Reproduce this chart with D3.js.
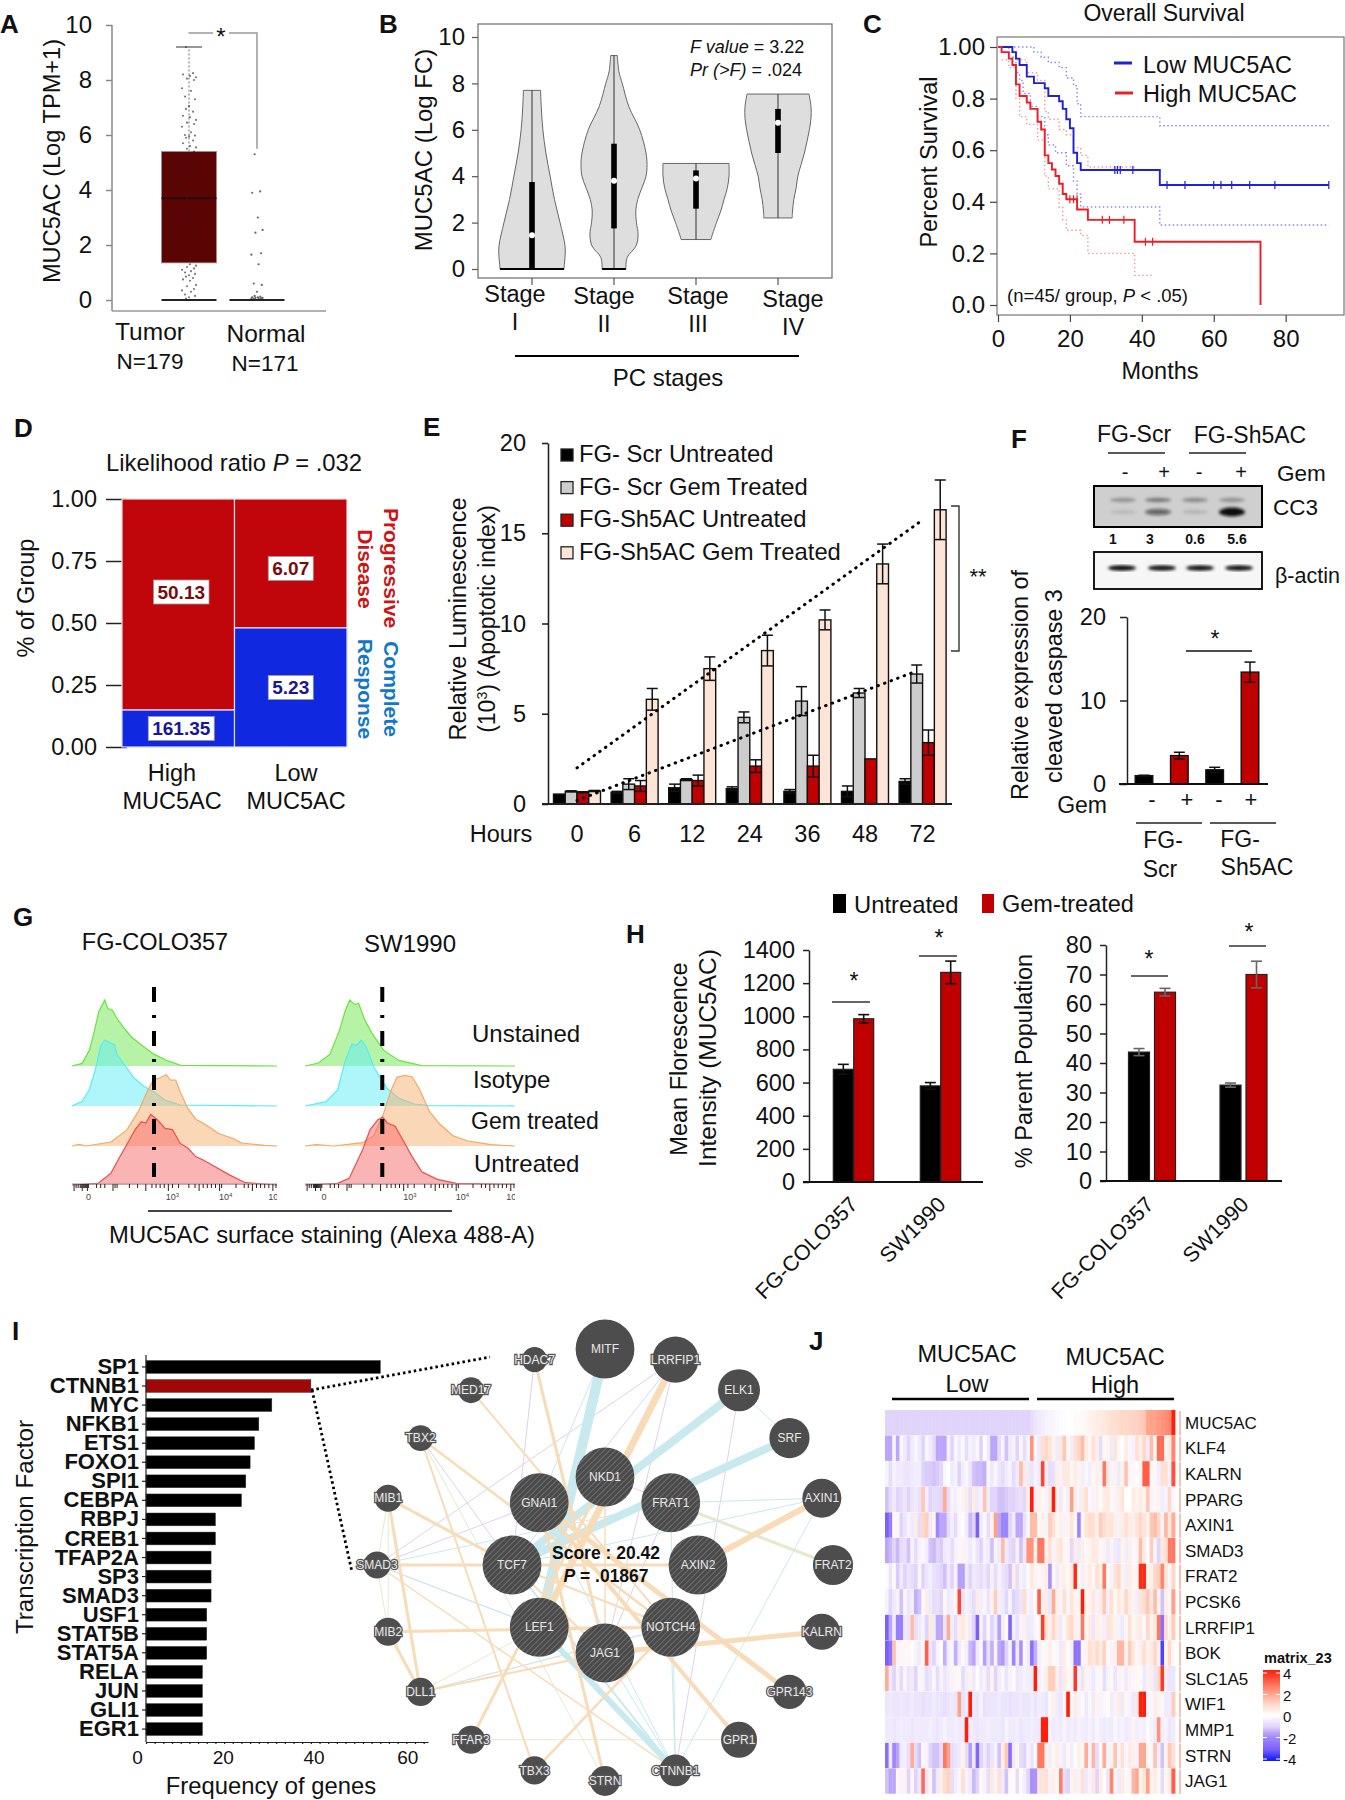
<!DOCTYPE html>
<html>
<head>
<meta charset="utf-8">
<script src="https://cdn.jsdelivr.net/npm/d3@7.9.0/dist/d3.min.js"></script>
<style>
  html, body { margin: 0; background: #fff; }
  svg { display: block; }
  text { font-family: "Liberation Sans", Arial, sans-serif; fill: #111; }
</style>
</head>
<body>
<svg id="fig" width="1345" height="1800"></svg>
<script>
// A
const aTicks = [0, 2, 4, 6, 8, 10];
const tumorBox = { q1: 1.35, med: 3.7, q3: 5.4, top: 9.2 };
const tumorPts = [9.2, 8.25, 8.2, 8.15, 8.1, 8.05, 8.0, 7.7, 7.6, 7.4, 7.3, 7.05, 6.95, 6.85, 6.7, 6.65, 6.55, 6.45, 6.4, 6.3, 6.1, 6.0, 5.98, 5.95, 5.9, 5.8, 5.7, 5.6, 5.55, 5.5, 5.4, 5.3, 5.1, 5, 4.8, 4.6, 4.5, 4.4, 4.2, 4, 3.8, 3.7, 3.5, 3.2, 3, 2.8, 2.6, 2.3, 2, 1.7, 1.5, 1.3, 1.25, 1.2, 1.15, 1.1, 1.05, 1.0, .95, .9, .85, .8, .75, .7, .55, .5, .4, .35, .3, .2, .15, .1, .05];
const normalPts = [5.3, 3.95, 3.9, 3, 2.55, 2.45, 1.7, 1.65, 1.3, .6, .55, .3, .15, .12, .1, .1, .08, .08, .06, .05, .05, .04];
const jitter = [-3, 4, -6, 1, 7, -2, 5, -7, 2, -4, 6, 0];

// B
const bTicks = [0, 2, 4, 6, 8, 10];
const stages = ['I', 'II', 'III', 'IV'];
const violinI = [[7.7, .26], [7, .28], [6, .33], [5, .42], [4, .55], [3, .68], [2, .85], [1, 1], [.5, 1], [.2, .98], [0, .97]];
const violinII = [[9.2, .1], [8.5, .15], [8, .25], [7, .45], [6, .78], [5, .97], [4.5, 1], [4, .97], [3, .72], [2.5, .66], [2, .68], [1.5, .73], [1, .67], [.5, .4], [0, .36]];
const violinIII = [[4.55, 1], [4, 1], [3.5, .95], [3, .85], [2.5, .75], [2, .62], [1.5, .5], [1.27, .45]];
const violinIV = [[7.54, .94], [7, 1], [6.5, 1], [6, .95], [5.5, .88], [5, .8], [4.5, .7], [4, .6], [3.5, .55], [3, .48], [2.5, .44], [2.2, .43]];
const violins = [violinI, violinII, violinIII, violinIV];
const stageQ1 = [0, 1.75, 2.6, 5.0];
const stageMed = [1.45, 3.8, 3.9, 6.3];
const stageQ3 = [3.75, 5.4, 4.25, 6.9];

// C
const lowCurve = [[0, 1], [4, .98], [5, .955], [6, .93], [8, .885], [10, .86], [13, .84], [14, .81], [17, .79], [18, .76], [19, .72], [20, .685], [21, .59], [22, .55], [23, .523], [45, .465], [92, .465]];
const highCurve = [[0, 1], [1, .98], [3, .955], [4, .93], [5, .855], [6, .81], [8, .785], [9, .76], [11, .71], [12, .68], [13, .58], [14, .55], [15, .525], [16, .5], [17, .47], [18, .43], [19, .41], [22, .37], [25, .33], [38, .245], [73, .245], [73, 0]];
const lowUpper = [[0, 1], [8, 1], [10, .98], [12, .96], [14, .94], [17, .92], [19, .88], [21, .85], [22, .78], [23, .73], [45, .695], [92, .695]];
const lowLower = [[4, .96], [5, .9], [6, .87], [7, .82], [9, .77], [11, .73], [13, .66], [14, .62], [16, .59], [19, .54], [21, .48], [22, .43], [23, .38], [45, .31], [92, .31]];
const highUpper = [[1, 1], [3, .98], [5, .95], [8, .9], [11, .87], [13, .75], [14, .72], [17, .68], [19, .66], [21, .61], [23, .58], [25, .535], [38, .535]];
const highLower = [[1, .95], [3, .92], [5, .8], [6, .73], [8, .7], [11, .64], [13, .5], [14, .45], [17, .38], [18, .33], [19, .29], [23, .27], [25, .2], [38, .115], [43, .115]];
const lowCensor = [[32.5, .523], [33.2, .523], [34, .523], [37.5, .523], [47, .465], [52, .465], [60, .465], [62, .465], [65, .465], [70, .465], [77, .465], [92, .465]];
const highCensor = [[20, .41], [21, .41], [22, .41], [29, .33], [31, .33], [35, .33], [41, .245], [43, .245]];

// D
const dTicks = [0, .25, .5, .75, 1];
const dGroups = ['High', 'Low'];
const dBlueShare = [.149, .48];
const dBlueStat = ['161.35', '5.23'];
const dRedStat = ['50.13', '6.07'];

// E
const hours = ['0', '6', '12', '24', '36', '48', '72'];
const eSeries = ['FG- Scr Untreated', 'FG- Scr Gem Treated', 'FG-Sh5AC Untreated', 'FG-Sh5AC Gem Treated'];
const scrUntreated = [.55, .65, .9, .85, .7, .7, 1.25];
const scrGem = [.7, 1.1, 1.35, 4.8, 5.7, 6.15, 7.2];
const shUntreated = [.65, 1.0, 1.3, 2.1, 2.1, 2.5, 3.4];
const shGem = [.72, 5.8, 7.5, 8.5, 10.2, 13.3, 16.3];
const scrUntreatedErr = [0, .05, .2, .1, .1, .3, .15];
const scrGemErr = [.03, .3, .05, .3, .8, .25, .5];
const shUntreatedErr = [.03, .3, .3, .35, .6, 0, .7];
const shGemErr = [.03, .6, .65, .85, .55, 1.1, 1.65];
const trendUpper = [[0, 2.0], [5.94, 15.6]];
const trendLower = [[0, .2], [5.8, 7.25]];

// F
const blotLanes = [1, 2, 3, 4];
const cc3Upper = [.38, .55, .42, .38];
const cc3Lower = [.1, .55, .12, 1];
const actinBand = [.95, .9, .9, .9];
const densito = ['1', '3', '0.6', '5.6'];
const fTicks = [0, 10, 20];
const fValues = [1.0, 3.4, 1.7, 13.4];
const fErr = [.05, .4, .3, 1.2];

// G
const greenL = [[0, 0], [5, .04], [8.5, .24], [11, .54], [13, .82], [16, 1], [17.5, .87], [19.6, .85], [22, .72], [25, .59], [29, .44], [34.6, .3], [40, .18], [45.7, .09], [53, .01], [100, 0]];
const cyanL = [[0, 0], [5, .07], [8.5, .25], [11.4, .55], [14, .91], [16, 1], [18.3, .96], [20.7, .93], [22, .78], [25, .65], [30.4, .42], [35, .3], [39.7, .22], [45.3, .09], [52.8, .015], [100, 0]];
const orangeL = [[0, 0], [3.4, .025], [7, 0], [19, .06], [26.7, .24], [32.3, .52], [37, .85], [39.7, 1], [42.6, 1.03], [46, 1.08], [48, 1], [50.6, 1], [52.8, .82], [56.5, .57], [60.3, .41], [65.9, .31], [71.5, .19], [79, .11], [82.6, .045], [93.8, .01], [100, 0]];
const redL = [[0, 0], [12.7, .025], [19, .18], [23, .41], [26.7, .61], [30.8, .84], [33.8, .96], [36, .94], [38.4, 1.07], [41.6, .99], [45.3, .86], [49, .84], [52.8, .63], [56.5, .56], [60.3, .43], [64, .38], [69.6, .28], [77, .15], [84.5, .035], [100, 0]];
const greenR = [[0, 0], [6.4, .045], [11.9, .18], [16.4, .54], [19.2, .84], [21.3, 1], [23.7, .93], [25.5, .95], [28.3, .71], [32, .49], [37.4, .24], [44.7, .085], [55.6, .005], [100, 0]];
const cyanR = [[0, 0], [10, .065], [15.5, .24], [19.2, .69], [22.4, .94], [24.6, .92], [26.8, 1], [29.2, .89], [32.8, .59], [35.6, .44], [39.2, .265], [44.7, .115], [52, .03], [59.3, .005], [100, 0]];
const orangeR = [[0, 0], [5.5, .02], [13.7, 0], [27.4, .05], [32.8, .16], [37.4, .49], [41, .85], [43.8, 1.04], [47.4, 1.07], [51, 1.05], [54.7, .85], [59.3, .52], [63.9, .34], [70.3, .16], [77.6, .076], [88.5, .02], [100, 0]];
const redR = [[0, 0], [15.5, .025], [21, .1], [27.4, .53], [31, .84], [34.7, .99], [37, 1.03], [39.2, .94], [42.9, .89], [46.5, .69], [51, .43], [55.6, .2], [63, .086], [72, .025], [100, .01]];
const flowTicks = [1, 2, 3, 4, 4.5, 5, 5.5, 6, 6.5, 7, 7.5, 8, 12, 14, 16, 20, 21, 22, 28, 32, 36, 39, 41, 43, 45, 47, 49, 52, 57, 60, 62, 64, 66, 68, 70, 72, 73, 80, 84, 86, 88, 90, 92, 94, 96, 98, 99.5];
const gateLeft = 40;
const gateRight = 36.8;

// H
const hCells = ['FG-COLO357', 'SW1990'];
const mfiTicks = [0, 200, 400, 600, 800, 1000, 1200, 1400];
const mfiUntreated = [680, 580];
const mfiGem = [985, 1265];
const mfiUntreatedErr = [30, 20];
const mfiGemErr = [25, 68];
const popTicks = [0, 10, 20, 30, 40, 50, 60, 70, 80];
const popUntreated = [43.7, 32.5];
const popGem = [64, 70];
const popUntreatedErr = [1.2, .7];
const popGemErr = [1.3, 4.5];

// I
const tfNames = ['SP1', 'CTNNB1', 'MYC', 'NFKB1', 'ETS1', 'FOXO1', 'SPI1', 'CEBPA', 'RBPJ', 'CREB1', 'TFAP2A', 'SP3', 'SMAD3', 'USF1', 'STAT5B', 'STAT5A', 'RELA', 'JUN', 'GLI1', 'EGR1'];
const tfFreq = [54, 38, 29, 26, 25, 24, 23, 22, 16, 16, 15, 15, 15, 14, 14, 14, 13, 13, 13, 13];

const innerGenes = ['NKD1', 'FRAT1', 'AXIN2', 'NOTCH4', 'JAG1', 'LEF1', 'TCF7', 'GNAI1'];
const outerGenes = ['MITF', 'LRRFIP1', 'ELK1', 'SRF', 'AXIN1', 'FRAT2', 'KALRN', 'GPR143', 'GPR1', 'CTNNB1', 'STRN', 'TBX3', 'FFAR3', 'DLL1', 'MIB2', 'SMAD3', 'MIB1', 'TBX2', 'MED17', 'HDAC7'];
const outerScore = [98, 77, 70, 67, 65, 67, 60, 57, 60, 53, 50, 47, 47, 47, 47, 45, 45, 43, 43, 42];
const orangeEdges = [['LRRFIP1', 'LEF1', 7], ['AXIN1', 'AXIN2', 6], ['KALRN', 'JAG1', 5], ['GPR143', 'GNAI1', 5], ['GPR1', 'GNAI1', 4], ['MIB1', 'TCF7', 3], ['SMAD3', 'AXIN2', 3], ['MIB2', 'NOTCH4', 3], ['MIB1', 'DLL1', 3], ['MIB2', 'DLL1', 3], ['MED17', 'NOTCH4', 2], ['HDAC7', 'JAG1', 3], ['STRN', 'GNAI1', 3], ['FFAR3', 'NKD1', 3], ['TBX3', 'NOTCH4', 2.5], ['TBX3', 'TBX2', 2], ['TBX2', 'NOTCH4', 2.5], ['DLL1', 'JAG1', 2], ['SMAD3', 'CTNNB1', 1.5], ['TCF7', 'JAG1', 2], ['GNAI1', 'STRN', 1.5], ['TCF7', 'NOTCH4', 2], ['LEF1', 'NOTCH4', 1.5], ['NKD1', 'JAG1', 1.5]];
const cyanEdges = [['MITF', 'LEF1', 10], ['ELK1', 'TCF7', 8], ['SRF', 'TCF7', 8], ['LEF1', 'CTNNB1', 6], ['TCF7', 'CTNNB1', 2], ['ELK1', 'SRF', 1], ['FRAT1', 'AXIN1', 1], ['TCF7', 'AXIN1', 1], ['AXIN1', 'CTNNB1', 1], ['FRAT1', 'CTNNB1', 1], ['NOTCH4', 'CTNNB1', 1], ['JAG1', 'CTNNB1', 1], ['SMAD3', 'FRAT1', 1], ['SMAD3', 'LEF1', 1], ['MITF', 'GNAI1', 1], ['DLL1', 'NOTCH4', 1], ['GNAI1', 'CTNNB1', 1]];
const purpleEdges = [['LRRFIP1', 'SMAD3', 1], ['LRRFIP1', 'TCF7', 1], ['HDAC7', 'TCF7', 1], ['ELK1', 'CTNNB1', 1], ['LRRFIP1', 'JAG1', 1], ['LRRFIP1', 'LEF1', 1], ['NKD1', 'FRAT2', 1], ['FRAT1', 'FRAT2', 1], ['SMAD3', 'LEF1', 1], ['SMAD3', 'GNAI1', 1], ['DLL1', 'JAG1', 1], ['TBX2', 'TCF7', 1], ['FRAT1', 'JAG1', 1]];
const greenEdges = [['FRAT1', 'FRAT2', 3], ['FFAR3', 'GPR1', 1], ['TBX2', 'TBX3', 1], ['TBX2', 'STRN', 1], ['MIB1', 'SMAD3', 1], ['SMAD3', 'MIB2', 1], ['MIB1', 'MIB2', 1], ['DLL1', 'NOTCH4', 1], ['DLL1', 'LEF1', 1]];

// J
const heatGenes = ['MUC5AC', 'KLF4', 'KALRN', 'PPARG', 'AXIN1', 'SMAD3', 'FRAT2', 'PCSK6', 'LRRFIP1', 'BOK', 'SLC1A5', 'WIF1', 'MMP1', 'STRN', 'JAG1'];
const rowMUC5AC = [-1,-1,-1,-1,-1,-1,-1,-1,-1,-1, -1,-1,-1,-1,-1,-1,-1,-1,-1,-1, -1,-1,-1,-1,-1,-1,-1,-1,-1,-1, -1,-1,-1,-1,-1,-1,-1,-1,-1,-1, -.8,-.6,-.5,-.4,-.3,-.25,-.2,-.15,-.1,-.05, 0,0,.1,.1,.15,.2,.3,.4,.5,.5, .6,.7,.8,.8,.9,1,1,1,1.1,1.1, 1.2,1.3,1.9,2,2,2.1,2.2,2.3,2.4,4];
const rowKLF4 = [-1.5,-1.5,-.3,-1.5,-.2,-.5,-1,-.5,-.2,-.5, -1,-.2,-.5,-.8,-1.5,-1.5,-1.5,-.3,-1,-.2, -.5,-.2,-.8,-.3,-.5,-.2,-1,0,-.5,-1.5, -1.5,-.8,-.3,-1.2,-.5,-.3,-1,-.2,-.8,-.3, 2.2,-.2,-.5,.8,1,.7,.3,-.5,.6,1.3, .2,-.4,.8,1,1.5,.5,.2,.8,.4,-.8, .2,.3,-.5,.7,.2,0,.5,-.2,-.3,.8, .4,1,-.5,1.5,.3,2.8,2.8,.3,.5,2.4];
const rowKALRN = [-.3,-.8,-.3,-.5,-.5,-.6,-.6,-.5,-.4,-.4, -1,-1.1,-1.1,-1.2,-1.1,-.9,-.2,0,-.5,-.3, -1,-.4,-.2,-.6,-1.2,-1.3,-1.3,-1.4,-.2,-.5, -.2,-.6,-.8,-.5,-.3,-.8,-.5,1.5,.5,-.5, -.6,-.3,-.5,3.4,-.5,-.8,-.7,.4,-.3,.6, .6,.2,.5,.3,-.4,-.2,-.4,.2,.4,-.3, 2.6,.6,-.3,.3,-.5,.3,1.4,-.2,.2,0, .3,3,3,.2,-.2,-.4,.8,.8,-.3,3.2];
const rowPPARG = [-1.2,-.8,-.5,-1,-.8,-.6,-1,-.6,-.5,-.7, 1.3,-.4,-1,-.8,-.8,-1,1.8,-.8,-.3,-.4, .2,-.3,.5,-.8,.5,-.5,-.3,1.4,-.5,-1, -1,-1.2,-1.2,-1.1,-1,-1,-.8,-.7,-.9,.5, 4,-.4,.4,.2,-.3,.6,4,.3,-.5,.2, -.4,2,.4,-.3,.5,.8,-.2,-.3,.4,.1, .5,.6,.2,-.3,.4,.7,0,0,.5,.3, .5,.3,1.3,-.3,.2,.3,-.4,-.3,1,-.2];
const rowAXIN1 = [-3,-2.2,.2,-.2,-1,-.6,-.3,-.5,.5,-.8, 1,1.2,-.5,.3,-2,-1.5,-1.5,-.8,-.4,-.8, -.2,.1,-.5,-1.3,-1,-3,-.5,-.2,-.8,.3, 2,-1.5,-2,-2,-1,-.5,-1.5,-1.5,-.7,-.2, 1.5,1.5,.2,.3,-.3,1.2,.8,.2,.4,-.3, .3,.7,-.2,-2,-.2,.7,.9,.8,.4,1.2, .9,.6,.7,.4,-.3,.5,.8,.5,.4,.7, 1,.7,.3,1.3,1.5,1,-.3,1.6,.6,1.8];
const rowSMAD3 = [-1.5,-1.3,-1,-1.3,-.8,-.7,-1.2,-.3,-.8,-.3, -.2,-.4,-1.2,-1.3,-1,-1.1,-.5,-.4,-.8,-.3, -.2,.3,-.3,-.5,-.2,-.6,-1,-.3,-.5,-1.2, -.3,-.5,1.5,-.5,-.8,-1,-.3,-1.2,-.5,2.2, 2.2,.3,2.6,2.6,.3,.8,-.3,.5,.7,.2, .3,-.9,.5,-.5,.4,.2,.3,.6,.5,-.2, .3,-.5,.3,-.5,-.6,.3,-.4,.4,-.2,.3, 1.5,.5,-.1,1.2,-.3,-1,.6,.8,2.6,2.6];
const rowFRAT2 = [-.1,-.6,.2,-1.1,-.5,-1,-.6,-.8,-1,-.2, -1,-.6,-.4,-.7,-.8,-1,-1.2,-.5,-1,-.3, -1.6,-1.6,-.5,-1,-.5,-.6,-.8,-.5,-.9,-.3, -.8,-.3,-.6,-.8,-1.2,.5,-.8,-.3,-.5,.1, .6,.3,-.2,.3,.5,-1.8,.2,-.5,.3,.4, .2,.5,3.8,.2,-.4,.3,.5,.2,.8,.4, 2.6,.2,-.3,.7,1,.3,-.4,.5,.2,.3, 3.8,3.8,.3,.4,1,1.2,2.4,.7,-.2,1];
const rowPCSK6 = [-.3,-1,-.5,-.3,-1.2,-.2,-.6,-.4,-1.4,-1.2, -.2,.5,-.5,-.8,-.7,-1,.2,-.5,-.4,-.2, 3.4,-.6,-.3,-.5,-.8,.5,-.4,-.2,-.6,.3, 1.2,-.4,-.5,-.9,-.3,-1,-.8,-.6,.9,-.3, -.4,.1,3,.3,.5,-.6,1.8,.4,-.3,.8, -.2,.7,.3,.2,4,.2,.3,.6,-.3,.5, 1.3,-.4,.8,.2,.6,.3,1,.5,.3,-.4, .7,.9,1.3,.6,1.5,.3,-1.2,.4,.2,2];
const rowLRRFIP1 = [-3,-1.5,-.5,-2.2,-2.2,-.5,-.6,1.5,-.7,-.5, -.3,-1,.6,-.5,-1.5,-1.5,-.6,1.8,-.4,-.8, .4,.6,.3,-.5,-1,-3,-.3,-1,-.2,-1, -.5,-1.6,-.4,.2,-2.8,-.4,-.7,-.3,.4,-.5, -.5,-.2,.1,3.5,.7,.4,1,.5,-.5,.2, .7,1,.4,-.3,2.6,.2,.5,-.6,.4,.3, -.4,.7,.6,.3,-.3,-.5,.2,.8,.2,.4, .5,-.2,1,.3,.6,2.6,-2.6,.9,.3,1.2];
const rowBOK = [-3,-2.5,1.4,-.3,.2,-.2,.2,.1,-.3,-.5, .2,3,-.6,-1,-.3,0,-1.4,-.4,-.2,-1.4, -.5,.2,-.4,-1.3,-1.5,-.5,-.2,-1.6,-.7,-1.4, -.3,-1.5,-1.7,-1,-.3,-2,-.5,-1.8,.2,-.5, -2.5,-1.4,-.4,.2,-.2,.4,.1,-.2,-.5,.5, .1,-.3,-2.5,-2.5,-.2,.3,.8,.6,.9,.5, 1.1,.2,-.3,.4,1.6,1.6,.3,1.2,.6,-.2, .4,.8,.3,.5,1,.4,-3.4,.3,1,.2];
const rowSLC1A5 = [1.8,-.5,-1,-.3,-.8,-.2,-.6,-.5,-1,-.2, -.3,-.8,-.6,-.2,-.8,-.3,-.6,-.4,.3,-.2, .2,-.8,-.4,.3,-.5,.1,-.5,-.3,-.8,.3, -1,-.4,-.2,-.6,-.3,.1,-.6,-.5,-.3,-.4, -.5,4,-.4,-.2,.5,1.2,1.2,.4,-.6,.5, .2,-.2,3.6,-.3,-.6,.3,-.3,-.5,-.2,.2, -.8,-.3,.2,-.6,-.3,.2,-.5,.3,-.2,.2, .1,-.5,-.3,.4,-.6,1,3.6,-.4,-.6,-.6];
const rowWIF1 = [-.6,-.5,-.6,-.6,-.5,-.6,-.6,-.5,-.6,-.6, -.7,-.6,-.6,-.5,-.6,-.6,-.7,-.6,-.5,-.6, 2,-.7,-.4,4,-.5,-.6,-.3,-.7,-.6,-.6, -.6,-.5,-.6,-.6,-.7,-.6,-.6,-.5,-.6,-.6, -.4,-.6,-.4,-.5,-.6,-.2,.4,-.5,-.6,-.2, 4,.2,.5,-.3,.1,-.5,-.2,-.5,.3,-.3, -.2,.1,-.4,-.3,.5,-.5,.2,-.3,-.5,.6, 4,4,-.3,-.2,.5,-.3,.2,-.5,-.5,1.2];
const rowMMP1 = [-.5,-.5,-.6,-.5,-.4,-.5,-.5,-.6,-.5,-.5, -.5,-.5,-.4,-.5,-.6,-.5,-.3,-.5,-.5,-.4, -.5,-.5,4,-.4,-.5,-.6,-.5,-.5,-.4,-.5, -.5,-.5,-.6,-.3,-.5,-.5,-.4,-.6,-.5,-.5, -.4,-.5,-.5,4,4,-.3,-.5,-.4,-.5,-.3, -.5,-.4,-.5,-.3,-.4,-.5,-.3,-.5,-.2,-.4, -.5,-.4,-.5,-.2,-.4,-.3,-.5,-.4,.3,-.4, -.3,-.4,.1,-.3,-.5,2.2,-.4,-.3,-.6,-.5];
const rowSTRN = [-2.6,-.5,-2,-1.5,-.5,-.4,-.8,1.8,-.8,-1.2, .2,-.3,-1,-1.2,-1.2,-.8,2.6,2,-.8,-.6, -.5,.3,-.8,-1.6,-.5,-2.8,-1,-.5,-1,-.6, -.3,-1.2,.4,1.3,-2.6,-.5,.3,-.8,-1,-.3, -.6,-.2,2.6,2.6,.3,-.4,.2,.5,-.3,-.5, .2,-.4,.1,.4,.2,1.8,-.3,1.6,-.8,.2, 1.8,-.3,.3,1.4,-.3,.8,-.2,.5,.4,-.3, 1.9,1.9,.2,-.2,1.4,-.4,-1.2,.3,1.3,.8];
const rowJAG1 = [-1.2,-1.5,-1.5,.2,-.3,.3,-1,-.2,-1,-.5, 2.8,-.6,.3,-1.2,-.5,.4,.9,1.1,-.8,-.4, -.2,.8,-.3,-.5,-1.3,-1,.2,-.3,-.8,.6, -.3,.8,-.5,-1.2,.2,.1,-.8,.1,-.4,-1, -1.8,-1.8,.7,.7,.8,-.3,.4,.2,2.5,-.8, -1,.3,.4,-.3,.8,-.5,-.3,.6,-1,.5, .1,-.6,2.4,.3,-.5,.5,.2,-.3,1.6,1.9, .3,.7,2,.3,.5,.2,-.8,.2,.5,3];
const heatRows = [rowMUC5AC, rowKLF4, rowKALRN, rowPPARG, rowAXIN1, rowSMAD3, rowFRAT2, rowPCSK6, rowLRRFIP1, rowBOK, rowSLC1A5, rowWIF1, rowMMP1, rowSTRN, rowJAG1];
const heatLegend = [4, 2, 0, -2, -4];

const svg = d3.select('#fig');
const RED = '#c00000';

function label(parent, x, y, s, o = {}) {
  const t = parent.append('text')
    .attr('x', x).attr('y', y)
    .attr('font-size', o.size || 23.5)
    .attr('text-anchor', o.anchor || 'start')
    .text(s);
  if (o.weight) t.attr('font-weight', o.weight);
  if (o.italic) t.attr('font-style', 'italic');
  if (o.fill) t.style('fill', o.fill);
  if (o.rotate !== undefined) t.attr('transform', `rotate(${o.rotate},${x},${y})`);
  return t;
}

function axisStyle(g, size, color = '#000', width = 1.5) {
  g.select('.domain').attr('stroke', color).attr('stroke-width', width);
  g.selectAll('.tick line').attr('stroke', color).attr('stroke-width', width);
  g.selectAll('.tick text').attr('font-size', size).style('fill', '#111');
}

function hLine(x1, x2, y, w = 1.5, color = '#222') {
  svg.append('line').attr('x1', x1).attr('x2', x2).attr('y1', y).attr('y2', y)
    .attr('stroke', color).attr('stroke-width', w);
}

function whisker(parent, x, y1, y2, cap, color = '#111', w = 1.5) {
  parent.append('line').attr('x1', x).attr('x2', x).attr('y1', y1).attr('y2', y2).attr('stroke', color).attr('stroke-width', w);
  [y1, y2].forEach(y => parent.append('line').attr('x1', x - cap).attr('x2', x + cap).attr('y1', y).attr('y2', y).attr('stroke', color).attr('stroke-width', w));
}

const defs = svg.append('defs');
defs.append('filter').attr('id', 'blur').append('feGaussianBlur').attr('stdDeviation', 1.6);
const hatch = defs.append('pattern').attr('id', 'hatch').attr('width', 4).attr('height', 4)
  .attr('patternUnits', 'userSpaceOnUse').attr('patternTransform', 'rotate(-45)');
hatch.append('rect').attr('width', 4).attr('height', 4).attr('fill', '#4a4a4a');
hatch.append('rect').attr('width', 4).attr('height', 1).attr('fill', '#6e6e6e');

// panel letters
[['A', 0, 33], ['B', 379, 33], ['C', 863, 33], ['D', 14, 437], ['E', 423, 436], ['F', 1011, 448], ['G', 13, 926], ['H', 626, 943], ['I', 12, 1340], ['J', 809, 1350]]
  .forEach(d => label(svg, d[1], d[2], d[0], { size: 26, weight: 'bold' }));

// --- A: box plot
function drawA() {
  const y = d3.scaleLinear().domain([0, 10]).range([300, 25]);
  const x = d3.scalePoint().domain(['Tumor', 'Normal']).range([189, 257]);
  const g = svg.append('g');
  const ax = g.append('g').attr('transform', 'translate(112,0)')
    .call(d3.axisLeft(y).tickValues(aTicks).tickSize(6).tickPadding(14).tickSizeOuter(0));
  axisStyle(ax, 24, '#888');
  ax.select('.domain').attr('d', 'M0,25V311');
  hLine(112, 326, 311, 1.5, '#999');

  const halfBox = 27.5;
  g.append('line').attr('x1', x('Tumor')).attr('x2', x('Tumor')).attr('y1', y(tumorBox.q3)).attr('y2', y(tumorBox.top))
    .attr('stroke', '#888').attr('stroke-dasharray', '2,2').attr('stroke-width', 1.2);
  g.append('line').attr('x1', x('Tumor') - 13).attr('x2', x('Tumor') + 13).attr('y1', y(tumorBox.top)).attr('y2', y(tumorBox.top)).attr('stroke', '#999').attr('stroke-width', 2);
  g.append('rect').attr('x', x('Tumor') - halfBox).attr('width', halfBox * 2)
    .attr('y', y(tumorBox.q3)).attr('height', y(tumorBox.q1) - y(tumorBox.q3))
    .attr('fill', '#5a0404').attr('stroke', '#aa8888').attr('stroke-width', .8);
  g.append('line').attr('x1', x('Tumor') - halfBox).attr('x2', x('Tumor') + halfBox).attr('y1', y(tumorBox.med)).attr('y2', y(tumorBox.med)).attr('stroke', '#2a0808').attr('stroke-width', 2);
  ['Tumor', 'Normal'].forEach(c => g.append('line').attr('x1', x(c) - halfBox).attr('x2', x(c) + halfBox).attr('y1', y(0)).attr('y2', y(0)).attr('stroke', '#222').attr('stroke-width', 2));

  g.selectAll('.tp').data(tumorPts).join('circle').attr('class', 'tp')
    .attr('cx', (d, i) => x('Tumor') + jitter[i % jitter.length])
    .attr('cy', d => y(d)).attr('r', 1.1).attr('fill', '#222').attr('opacity', .6);
  g.selectAll('.np').data(normalPts).join('circle').attr('class', 'np')
    .attr('cx', (d, i) => x('Normal') + jitter[i % jitter.length] * .8)
    .attr('cy', d => y(d)).attr('r', 1.1).attr('fill', '#222').attr('opacity', .7);

  // bracket
  g.append('path').attr('fill', 'none').attr('stroke', '#999').attr('stroke-width', 1.5)
    .attr('d', `M${x('Tumor')},${y(9.7)}V33H${x('Normal')}V${y(5.5)}`);
  g.append('rect').attr('x', 213).attr('y', 28).attr('width', 16).attr('height', 10).attr('fill', '#fff');
  label(g, 221, 45, '*', { size: 24, anchor: 'middle' });

  label(g, 150, 340, 'Tumor', { size: 24.5, anchor: 'middle' });
  label(g, 266, 342, 'Normal', { size: 24.5, anchor: 'middle' });
  label(g, 150, 369, 'N=179', { size: 22.5, anchor: 'middle' });
  label(g, 265, 371, 'N=171', { size: 22.5, anchor: 'middle' });
  label(g, 60, 161, 'MUC5AC (Log TPM+1)', { size: 23.6, anchor: 'middle', rotate: -90 });
}

// --- B: violins
function drawB() {
  const y = d3.scaleLinear().domain([0, 10]).range([269, 37]);
  const x = d3.scalePoint().domain(stages).range([532, 778]);
  const w = d3.scaleLinear().domain([0, 1]).range([0, 33]);
  const g = svg.append('g');
  g.append('rect').attr('x', 478).attr('y', 24).attr('width', 354).attr('height', 254)
    .attr('fill', 'none').attr('stroke', '#777').attr('stroke-width', 1.3);
  const ax = g.append('g').attr('transform', 'translate(478,0)')
    .call(d3.axisLeft(y).tickValues(bTicks).tickSize(6).tickPadding(7).tickSizeOuter(0));
  axisStyle(ax, 24, '#555', 1.2);
  ax.select('.domain').remove();

  const area = d3.area().curve(d3.curveCatmullRom.alpha(.5))
    .y(d => y(d[0])).x0(d => -w(d[1])).x1(d => w(d[1]));
  stages.forEach((s, i) => {
    const c = g.append('g').attr('transform', `translate(${x(s)},0)`);
    c.append('line').attr('y1', 278).attr('y2', 285).attr('stroke', '#555').attr('stroke-width', 1.2);
    c.append('path').attr('d', area(violins[i])).attr('fill', '#dedede').attr('stroke', '#666').attr('stroke-width', 1);
    const ext = d3.extent(violins[i], d => d[0]);
    c.append('line').attr('y1', y(ext[0])).attr('y2', y(ext[1])).attr('stroke', '#333').attr('stroke-width', 1);
    c.append('rect').attr('x', -2.8).attr('width', 5.6).attr('y', y(stageQ3[i])).attr('height', y(stageQ1[i]) - y(stageQ3[i])).attr('fill', '#000');
    c.append('circle').attr('cy', y(stageMed[i])).attr('r', 3).attr('fill', '#fff');
    if (ext[0] === 0) {
      const half = w(violins[i][violins[i].length - 1][1]);
      c.append('line').attr('x1', -half).attr('x2', half).attr('y1', y(0)).attr('y2', y(0)).attr('stroke', '#000').attr('stroke-width', 2);
    }
  });
  [[515, 302], [604, 304], [698, 304], [793, 307]].forEach((p, i) => {
    label(g, p[0], p[1], 'Stage', { size: 23.5, anchor: 'middle' });
    label(g, p[0], p[1] + 28, stages[i], { size: 23.5, anchor: 'middle' });
  });
  hLine(515, 799, 356, 2, '#000');
  label(g, 668, 386, 'PC stages', { size: 24, anchor: 'middle' });
  label(g, 432, 150, 'MUC5AC (Log FC)', { size: 24, anchor: 'middle', rotate: -90 });
  const f1 = label(g, 690, 53, 'F value', { size: 18, italic: true });
  f1.append('tspan').attr('font-style', 'normal').text(' = 3.22');
  const f2 = label(g, 690, 76, 'Pr (>F)', { size: 18, italic: true });
  f2.append('tspan').attr('font-style', 'normal').text(' = .024');
}

// --- C: survival
function drawC() {
  const x = d3.scaleLinear().domain([0, 96.5]).range([998, 1345]);
  const y = d3.scaleLinear().domain([0, 1]).range([305, 47]);
  const g = svg.append('g');
  const line = d3.line().x(d => x(d[0])).y(d => y(d[1])).curve(d3.curveStepAfter);
  g.append('rect').attr('x', 997).attr('y', 37).attr('width', 347).attr('height', 278)
    .attr('fill', 'none').attr('stroke', '#777').attr('stroke-width', 1.2);
  const ay = g.append('g').attr('transform', 'translate(997,0)')
    .call(d3.axisLeft(y).tickValues([0, .2, .4, .6, .8, 1]).tickFormat(d => d === 1 ? '1.00' : d.toFixed(1)).tickSize(7).tickPadding(5).tickSizeOuter(0));
  axisStyle(ay, 24, '#444', 1.2);
  ay.select('.domain').remove();
  const ax = g.append('g').attr('transform', 'translate(0,315)')
    .call(d3.axisBottom(x).tickValues([0, 20, 40, 60, 80]).tickSize(7).tickPadding(8).tickSizeOuter(0));
  axisStyle(ax, 24, '#444', 1.2);
  ax.select('.domain').remove();

  [[lowUpper, '#8a8aee'], [lowLower, '#8a8aee'], [highUpper, '#f59a9a'], [highLower, '#f59a9a']].forEach(d =>
    g.append('path').attr('d', line(d[0])).attr('fill', 'none').attr('stroke', d[1]).attr('stroke-width', 1.4).attr('stroke-dasharray', '1.5,2.5'));
  [[lowCurve, lowCensor, '#2020d8'], [highCurve, highCensor, '#ee1c25']].forEach(d => {
    g.append('path').attr('d', line(d[0])).attr('fill', 'none').attr('stroke', d[2]).attr('stroke-width', 1.9);
    g.selectAll(null).data(d[1]).join('line')
      .attr('x1', c => x(c[0])).attr('x2', c => x(c[0])).attr('y1', c => y(c[1]) - 4).attr('y2', c => y(c[1]) + 4)
      .attr('stroke', d[2]).attr('stroke-width', 1.2);
  });
  hLine(1114, 1132, 63, 3, '#2020d8');
  hLine(1115, 1133, 93, 3, '#ee1c25');
  label(g, 1143, 73, 'Low MUC5AC', { size: 23.5 });
  label(g, 1143, 102, 'High MUC5AC', { size: 23.5 });
  label(g, 1164, 21, 'Overall Survival', { size: 23, anchor: 'middle' });
  label(g, 937, 162, 'Percent Survival', { size: 23.5, anchor: 'middle', rotate: -90 });
  label(g, 1160, 379, 'Months', { size: 23.5, anchor: 'middle' });
  const n = label(g, 1007, 302, '(n=45/ group, ', { size: 18.5 });
  n.append('tspan').attr('font-style', 'italic').text('P');
  n.append('tspan').text(' < .05)');
}

// --- D: mosaic
function drawD() {
  const x = d3.scaleLinear().domain([0, 1]).range([122, 347]);
  const y = d3.scaleLinear().domain([0, 1]).range([747, 499]);
  const g = svg.append('g');
  const ay = g.append('g').attr('transform', 'translate(127,0)')
    .call(d3.axisLeft(y).tickValues(dTicks).tickFormat(d3.format('.2f')).tickSize(21).tickPadding(9).tickSizeOuter(0));
  axisStyle(ay, 23.5, '#222', 1.5);
  ay.select('.domain').remove();
  const band = d3.scaleBand().domain(dGroups).range([0, 1]);
  const redLabelAt = [.625, .72];
  const blueLabelAt = [.075, .24];
  const redText = '#7a0c0c';
  const blueText = '#16169c';
  dGroups.forEach((c, i) => {
    const x0 = x(band(c));
    const wd = x(band(c) + band.bandwidth()) - x0;
    g.append('rect').attr('x', x0).attr('width', wd).attr('y', y(1)).attr('height', y(dBlueShare[i]) - y(1))
      .attr('fill', '#c0060a').attr('stroke', '#f0e0e0').attr('stroke-width', 1.2);
    g.append('rect').attr('x', x0).attr('width', wd).attr('y', y(dBlueShare[i])).attr('height', y(0) - y(dBlueShare[i]))
      .attr('fill', '#1029e0').attr('stroke', '#d8dcf0').attr('stroke-width', 1.2);
    const cx = x0 + wd / 2 + (i === 0 ? 3 : 0);
    [[dRedStat[i], redLabelAt[i], redText], [dBlueStat[i], blueLabelAt[i], blueText]].forEach(s => {
      const bw = s[0].length * 10.5 + 3;
      g.append('rect').attr('x', cx - bw / 2).attr('y', y(s[1]) - 12).attr('width', bw).attr('height', 24)
        .attr('fill', '#fff').attr('stroke', '#999').attr('stroke-width', .8);
      label(g, cx, y(s[1]) + 7, s[0], { size: 19, weight: 'bold', anchor: 'middle', fill: s[2] });
    });
    label(g, i ? 296 : 172, 781, c, { anchor: 'middle' });
    label(g, i ? 296 : 172, 809, 'MUC5AC', { anchor: 'middle' });
  });
  const t = label(g, 106, 471, 'Likelihood ratio ', { size: 23.8 });
  t.append('tspan').attr('font-style', 'italic').text('P');
  t.append('tspan').text(' = .032');
  label(g, 34, 598, '% of Group', { anchor: 'middle', rotate: -90 });
  label(g, 384, 568, 'Progressive', { size: 21, weight: 'bold', anchor: 'middle', rotate: 90, fill: '#cc1414' });
  label(g, 358, 569, 'Disease', { size: 21, weight: 'bold', anchor: 'middle', rotate: 90, fill: '#cc1414' });
  label(g, 384, 689, 'Complete', { size: 21, weight: 'bold', anchor: 'middle', rotate: 90, fill: '#1277c9' });
  label(g, 358, 689, 'Response', { size: 21, weight: 'bold', anchor: 'middle', rotate: 90, fill: '#1277c9' });
}

// --- E: grouped bars
function drawE() {
  const y = d3.scaleLinear().domain([0, 20]).range([804, 443]);
  const center = i => 577 + 57.6 * i;
  const inner = d3.scaleBand().domain(d3.range(4)).range([-23.5, 23.5]);
  const series = [scrUntreated, scrGem, shUntreated, shGem];
  const errs = [scrUntreatedErr, scrGemErr, shUntreatedErr, shGemErr];
  const fills = ['#000', '#cdcdcd', RED, '#fce4d6'];
  const g = svg.append('g');
  const ay = g.append('g').attr('transform', 'translate(548,0)')
    .call(d3.axisLeft(y).tickValues([0, 5, 10, 15, 20]).tickSize(6).tickPadding(16).tickSizeOuter(0));
  axisStyle(ay, 23.5, '#222', 1.6);
  hours.forEach((h, i) => {
    label(g, center(i), 842, h, { anchor: 'middle' });
    series.forEach((s, k) => {
      const bx = center(i) + inner(k);
      g.append('rect').attr('x', bx).attr('width', inner.bandwidth()).attr('y', y(s[i])).attr('height', y(0) - y(s[i]))
        .attr('fill', fills[k]).attr('stroke', '#111').attr('stroke-width', 1.4);
      if (errs[k][i] > 0) whisker(g, bx + inner.bandwidth() / 2, y(s[i] + errs[k][i]), y(s[i] - errs[k][i]), 5.5);
    });
  });
  hLine(542, 952, 804, 1.8, '#222');
  const trend = d3.line().x(d => center(d[0])).y(d => y(d[1]));
  [trendUpper, trendLower].forEach(t =>
    g.append('path').attr('d', trend(t)).attr('fill', 'none').attr('stroke', '#000').attr('stroke-width', 3)
      .attr('stroke-linecap', 'round').attr('stroke-dasharray', '0.5,6.5'));
  eSeries.forEach((s, i) => {
    g.append('rect').attr('x', 561).attr('y', 449 + i * 32.6).attr('width', 12).attr('height', 12)
      .attr('fill', fills[i]).attr('stroke', '#222').attr('stroke-width', 1.3);
    label(g, 579, 462 + i * 32.5, s, { size: 23.8 });
  });
  g.append('path').attr('fill', 'none').attr('stroke', '#333').attr('stroke-width', 1.4).attr('d', 'M951,506H959V651H951');
  label(g, 978, 584, '**', { size: 22, anchor: 'middle' });
  label(g, 501, 842, 'Hours', { anchor: 'middle' });
  label(g, 466, 619, 'Relative Luminescence', { size: 23.5, anchor: 'middle', rotate: -90 });
  const t = label(g, 495, 619, '(10', { size: 23, anchor: 'middle', rotate: -90 });
  t.append('tspan').attr('dy', -8).attr('font-size', 14).text('3');
  t.append('tspan').attr('dy', 8).text(') (Apoptotic index)');
}

// --- F: blot + bars
function drawF() {
  const g = svg.append('g');
  const lane1 = d3.scaleOrdinal().domain(blotLanes).range([1123, 1158, 1195, 1232]);
  const lane2 = d3.scaleOrdinal().domain(blotLanes).range([1122, 1162, 1200, 1239]);
  g.append('rect').attr('x', 1094).attr('y', 486).attr('width', 168).attr('height', 41).attr('fill', '#cfcfcf');
  const bands = g.append('g').attr('filter', 'url(#blur)');
  blotLanes.forEach((l, i) => {
    bands.append('ellipse').attr('cx', lane1(l)).attr('cy', 500).attr('rx', 13).attr('ry', 2.2).attr('fill', '#333').attr('opacity', cc3Upper[i]);
    bands.append('ellipse').attr('cx', lane1(l)).attr('cy', 512).attr('rx', 13).attr('ry', 2 + 2.4 * cc3Lower[i]).attr('fill', '#111').attr('opacity', cc3Lower[i]);
  });
  g.append('rect').attr('x', 1094).attr('y', 486).attr('width', 168).attr('height', 41).attr('fill', 'none').attr('stroke', '#000').attr('stroke-width', 2);
  g.append('rect').attr('x', 1094).attr('y', 552).attr('width', 168).attr('height', 37).attr('fill', '#f6f6f6');
  const actin = g.append('g').attr('filter', 'url(#blur)');
  blotLanes.forEach((l, i) => {
    actin.append('ellipse').attr('cx', lane2(l)).attr('cy', 568).attr('rx', 14).attr('ry', 2.8).attr('fill', '#000').attr('opacity', actinBand[i]);
  });
  g.append('rect').attr('x', 1094).attr('y', 552).attr('width', 168).attr('height', 37).attr('fill', 'none').attr('stroke', '#000').attr('stroke-width', 1.8);

  const signs = ['-', '+', '-', '+'];
  [1125, 1164, 1199, 1241].forEach((px, i) => label(g, px, 479, signs[i], { size: 20, anchor: 'middle' }));
  [1113, 1150, 1195, 1237].forEach((px, i) => label(g, px, 544, densito[i], { size: 14, weight: 'bold', anchor: 'middle' }));
  label(g, 1134, 442, 'FG-Scr', { size: 23, anchor: 'middle' });
  label(g, 1250, 443, 'FG-Sh5AC', { size: 23, anchor: 'middle' });
  hLine(1108, 1165, 453, 1.3);
  hLine(1189, 1246, 453, 1.3);
  label(g, 1277, 481, 'Gem', { size: 22.5 });
  label(g, 1273, 515, 'CC3', { size: 22.5 });
  label(g, 1275, 583, 'β-actin', { size: 21.5 });

  const y = d3.scaleLinear().domain([0, 20]).range([784, 617]);
  const x = d3.scalePoint().domain(d3.range(4)).range([1144, 1250]);
  const ay = g.append('g').attr('transform', 'translate(1127,0)')
    .call(d3.axisLeft(y).tickValues(fTicks).tickSize(7).tickPadding(14).tickSizeOuter(0));
  axisStyle(ay, 23.5, '#222', 1.5);
  fValues.forEach((v, i) => {
    g.append('rect').attr('x', x(i) - 8.8).attr('width', 17.6).attr('y', y(v)).attr('height', y(0) - y(v))
      .attr('fill', i % 2 ? RED : '#000').attr('stroke', '#111').attr('stroke-width', 1.4);
    whisker(g, x(i), y(v + fErr[i]), y(v - fErr[i]), 5.5);
  });
  hLine(1119, 1268, 784, 1.8, '#111');
  hLine(1186, 1252, 651, 1.4, '#111');
  label(g, 1215, 647, '*', { size: 23, anchor: 'middle' });
  label(g, 1107, 813, 'Gem', { size: 23, anchor: 'end' });
  [1152, 1187, 1219, 1251].forEach((px, i) => label(g, px, 807, signs[i], { size: 22, anchor: 'middle' }));
  hLine(1136, 1202, 823, 1.4);
  hLine(1210, 1276, 823, 1.4);
  label(g, 1163, 848, 'FG-', { size: 23, anchor: 'middle' });
  label(g, 1160, 877, 'Scr', { size: 23, anchor: 'middle' });
  label(g, 1240, 847, 'FG-', { size: 23, anchor: 'middle' });
  label(g, 1257, 875, 'Sh5AC', { size: 23, anchor: 'middle' });
  label(g, 1028, 685, 'Relative expression of', { size: 23.4, anchor: 'middle', rotate: -90 });
  label(g, 1062, 686, 'cleaved caspase 3', { size: 23.4, anchor: 'middle', rotate: -90 });
}

// --- G: flow histograms
function drawG() {
  const g = svg.append('g');
  const y = d3.scaleLinear().domain([0, 1]).range([0, -66]);
  const colors = [['#6be23f', '#70e850'], ['#55ecf5', '#60eef5'], ['#f5a860', '#f5b070'], ['#f04a4a', '#f86a6a']];
  const baselines = [1066, 1106, 1146, 1185];
  const panels = [
    { range: [72, 277], sets: [greenL, cyanL, orangeL, redL], gate: gateLeft, labels: [8, 49, 75, 99] },
    { range: [305, 515], sets: [greenR, cyanR, orangeR, redR], gate: gateRight, labels: [9, 50, 75, 99] }
  ];
  const ord = ['0', '3', '4', '5'];
  panels.forEach((p, pi) => {
    const x = d3.scaleLinear().domain([0, 100]).range(p.range);
    const clip = defs.append('clipPath').attr('id', 'flow' + pi);
    clip.append('rect').attr('x', p.range[0]).attr('y', 980).attr('width', p.range[1] - p.range[0]).attr('height', 240);
    const pg = g.append('g').attr('clip-path', `url(#flow${pi})`);
    const area = d3.area().x(d => x(d[0])).y0(0).y1(d => y(d[1]));
    const top = d3.line().x(d => x(d[0])).y(d => y(d[1]));
    p.sets.forEach((s, i) => {
      const row = pg.append('g').attr('transform', `translate(0,${baselines[i]})`);
      row.append('path').attr('d', area(s)).attr('fill', colors[i][1]).attr('fill-opacity', .5);
      row.append('path').attr('d', top(s)).attr('fill', 'none').attr('stroke', colors[i][0]).attr('stroke-width', 1.2);
    });
    pg.append('line').attr('x1', p.range[0]).attr('x2', p.range[1]).attr('y1', 1184).attr('y2', 1184).attr('stroke', '#999').attr('stroke-width', 1);
    pg.selectAll('.ft').data(flowTicks).join('line').attr('class', 'ft')
      .attr('x1', d => x(d)).attr('x2', d => x(d)).attr('y1', 1184).attr('y2', (d, i) => i % 5 === 0 ? 1191 : 1188)
      .attr('stroke', '#222').attr('stroke-width', 1);
    p.labels.forEach((c, i) => {
      const t = label(pg, x(c), 1200, i === 0 ? '0' : '10', { size: 9, anchor: 'middle', fill: '#444' });
      if (i > 0) t.append('tspan').attr('dy', -3).attr('font-size', 6).text(ord[i]);
    });
    pg.append('line').attr('x1', x(p.gate)).attr('x2', x(p.gate)).attr('y1', 987).attr('y2', 1177)
      .attr('stroke', '#000').attr('stroke-width', 4).attr('stroke-dasharray', '15,13,3,13');
  });
  label(g, 155, 950, 'FG-COLO357', { anchor: 'middle' });
  label(g, 410, 952, 'SW1990', { size: 24, anchor: 'middle' });
  label(g, 472, 1042, 'Unstained', { size: 24 });
  label(g, 473, 1088, 'Isotype', { size: 24 });
  label(g, 471, 1129, 'Gem treated', { size: 23 });
  label(g, 474, 1172, 'Untreated', { size: 24 });
  hLine(148, 452, 1211, 1.8, '#444');
  label(g, 322, 1243, 'MUC5AC surface staining (Alexa 488-A)', { size: 23.8, anchor: 'middle' });
}

// --- H: paired bars
function drawH() {
  const g = svg.append('g');
  function pair(o) {
    const y = d3.scaleLinear().domain(o.domain).range(o.yRange);
    const x = d3.scalePoint().domain(hCells).range(o.centers);
    const ay = g.append('g').attr('transform', `translate(${o.axisX},0)`)
      .call(d3.axisLeft(y).tickValues(o.ticks).tickFormat(d3.format('d')).tickSize(6).tickPadding(8).tickSizeOuter(0));
    axisStyle(ay, 23.5, '#222', 1.5);
    hCells.forEach((c, i) => {
      [[o.untreated, o.untreatedErr, '#000', -o.offset], [o.gem, o.gemErr, RED, o.offset]].forEach(b => {
        const cx = x(c) + b[3];
        g.append('rect').attr('x', cx - o.barW / 2).attr('width', o.barW).attr('y', y(b[0][i])).attr('height', y(0) - y(b[0][i]))
          .attr('fill', b[2]).attr('stroke', '#222').attr('stroke-width', 1.2);
        whisker(g, cx, y(b[0][i] + b[1][i]), y(b[0][i] - b[1][i]), 5.5, o.errColor, 1.6);
      });
      const e = o.labelEnds[i];
      label(g, e, 1196, c, { size: 21.5, anchor: 'end', rotate: -45 }).attr('dy', 14);
      hLine(o.sig[i][0], o.sig[i][1], o.sig[i][2], 1.4, '#333');
      label(g, o.star[i][0], o.star[i][1] + 9, '*', { size: 23, anchor: 'middle' });
    });
    hLine(o.axisX - 6, o.baseEnd, y(0), 1.8, '#111');
  }
  pair({
    domain: [0, 1400], yRange: [1182, 950], centers: [853.5, 940.5], axisX: 809, ticks: mfiTicks,
    untreated: mfiUntreated, gem: mfiGem, untreatedErr: mfiUntreatedErr, gemErr: mfiGemErr, offset: 10.2, barW: 20, errColor: '#111',
    labelEnds: [849, 937], sig: [[832, 870, 1002], [919, 957, 956]], star: [[854, 980], [939, 937]], baseEnd: 983
  });
  pair({
    domain: [0, 80], yRange: [1181, 945], centers: [1152, 1243.5], axisX: 1106, ticks: popTicks,
    untreated: popUntreated, gem: popGem, untreatedErr: popUntreatedErr, gemErr: popGemErr, offset: 13, barW: 21, errColor: '#666',
    labelEnds: [1145, 1240], sig: [[1131, 1168, 976], [1229, 1266, 946]], star: [[1149, 958], [1249, 931]], baseEnd: 1282
  });
  g.append('rect').attr('x', 833).attr('y', 894).attr('width', 13).attr('height', 19).attr('fill', '#000');
  g.append('rect').attr('x', 982).attr('y', 894).attr('width', 12).attr('height', 19).attr('fill', RED);
  label(g, 854, 913, 'Untreated', { size: 23.8 });
  label(g, 1002, 912, 'Gem-treated');
  label(g, 687, 1059, 'Mean Florescence', { anchor: 'middle', rotate: -90 });
  label(g, 716, 1058, 'Intensity (MUC5AC)', { size: 24.5, anchor: 'middle', rotate: -90 });
  label(g, 1032, 1061, '% Parent Population', { anchor: 'middle', rotate: -90 });
}

// --- I: TF bars
function drawI() {
  const g = svg.append('g');
  const x = d3.scaleLinear().domain([0, 65]).range([146, 428]);
  const y = d3.scaleBand().domain(tfNames).range([1357.5, 1738.5]).paddingInner(.33).paddingOuter(.16);
  g.selectAll('.tf').data(tfNames).join('rect').attr('class', 'tf')
    .attr('x', x(0)).attr('y', d => y(d)).attr('height', y.bandwidth())
    .attr('width', (d, i) => x(tfFreq[i]) - x(0))
    .attr('fill', d => d === 'CTNNB1' ? '#a00808' : '#000')
    .attr('stroke', '#333').attr('stroke-width', .5);
  const ay = g.append('g').attr('transform', 'translate(146,0)').call(d3.axisLeft(y).tickSize(4).tickPadding(3).tickSizeOuter(0));
  axisStyle(ay, 22, '#222', 1.2);
  ay.selectAll('.tick text').attr('font-weight', 'bold');
  ay.select('.domain').attr('d', 'M0,1355V1742');
  const labelShift = { 0: -9, 20: -10, 40: -6, 60: 1 };
  const ax = g.append('g').attr('transform', 'translate(0,1742)')
    .call(d3.axisBottom(x).tickValues(d3.range(0, 66, 2)).tickFormat(d => d % 20 ? '' : d).tickSize(2).tickPadding(7).tickSizeOuter(0));
  axisStyle(ax, 19, '#222', 1.2);
  ax.selectAll('.tick text').attr('dx', d => labelShift[d] || 0);
  label(g, 271, 1794, 'Frequency of genes', { size: 23.8, anchor: 'middle' });
  label(g, 33, 1527, 'Transcription Factor', { size: 24.2, anchor: 'middle', rotate: -90 });
  const dots = d3.line();
  [[[311, 1390], [490, 1357]], [[312, 1390], [352, 1572]]].forEach(p =>
    g.append('path').attr('d', dots(p)).attr('fill', 'none').attr('stroke', '#000').attr('stroke-width', 2.8).attr('stroke-dasharray', '2.5,3'));
}

// --- I: network
function drawNetwork() {
  const g = svg.append('g');
  const cx = 605, cy = 1565;
  const rScale = d3.scaleLinear().domain([0, 100]).range([0, 30]);
  const ring = (names, rx, ry) => {
    const angle = d3.scaleLinear().domain([0, names.length]).range([0, 2 * Math.PI]);
    return names.map((n, i) => ({ name: n, x: cx + rx * Math.sin(angle(i)), y: cy - ry * Math.cos(angle(i)) }));
  };
  const inner = ring(innerGenes, 93, 88).map(d => ({ ...d, r: rScale(98), hit: true }));
  const outer = ring(outerGenes, 228, 216).map((d, i) => ({ ...d, r: rScale(outerScore[i]), hit: false }));
  const nodes = new Map([...outer, ...inner].map(d => [d.name, d]));
  const sets = [[purpleEdges, '#ddd2ea'], [greenEdges, '#e3ebcd'], [cyanEdges, '#c8e9ee'], [orangeEdges, '#f8dcb8']];
  sets.forEach(s => {
    g.selectAll(null).data(s[0]).join('line')
      .attr('x1', d => nodes.get(d[0]).x).attr('y1', d => nodes.get(d[0]).y)
      .attr('x2', d => nodes.get(d[1]).x).attr('y2', d => nodes.get(d[1]).y)
      .attr('stroke', s[1]).attr('stroke-width', d => d[2]);
  });
  const node = g.selectAll('.node').data([...nodes.values()]).join('g').attr('class', 'node')
    .attr('transform', d => `translate(${d.x},${d.y})`);
  node.append('circle').attr('r', d => d.r).attr('fill', d => d.hit ? 'url(#hatch)' : '#4d4d4d');
  node.append('text').attr('text-anchor', 'middle').attr('dy', 4.2).attr('font-size', 12)
    .style('fill', '#e8e8e8')
    .attr('stroke', d => d.r < 19 || d.name === 'LRRFIP1' ? '#555' : 'none').attr('stroke-width', 2.4).attr('paint-order', 'stroke')
    .text(d => d.name);
  label(g, 606, 1559, 'Score : 20.42', { size: 17.5, weight: 'bold', anchor: 'middle' });
  const p = label(g, 606, 1582, 'P', { size: 17.5, weight: 'bold', anchor: 'middle', italic: true });
  p.append('tspan').attr('font-style', 'normal').text(' = .01867');
}

// --- J: heatmap
function drawJ() {
  const g = svg.append('g');
  const cols = d3.range(rowMUC5AC.length);
  const x = d3.scaleBand().domain(cols).range([885, 1175]);
  const y = d3.scaleBand().domain(heatGenes).range([1410, 1794]);
  const color = d3.scaleLinear().domain([-4, -3, -2, -1.5, -1, 0, 1, 2, 4])
    .range(['#0a16ff', '#7a60f8', '#9f85fb', '#bba6f9', '#e0d4fa', '#ffffff', '#ffd8c8', '#ffa088', '#ff1e0a']);
  heatGenes.forEach((name, r) => {
    g.selectAll(null).data(heatRows[r]).join('rect')
      .attr('x', (d, i) => x(i)).attr('y', y(name))
      .attr('width', x.bandwidth() + .4).attr('height', y.bandwidth() - .3)
      .attr('fill', d => color(d));
    g.append('line').attr('x1', 1180).attr('x2', 1180).attr('y1', y(name) + 1).attr('y2', y(name) + y.bandwidth())
      .attr('stroke', '#f8a898').attr('stroke-width', 1.4);
    label(g, 1185, y(name) + y.bandwidth() / 2 + 6, name, { size: 17 });
  });
  label(g, 967, 1362, 'MUC5AC', { anchor: 'middle' });
  label(g, 967, 1392, 'Low', { anchor: 'middle' });
  label(g, 1115, 1365, 'MUC5AC', { anchor: 'middle' });
  label(g, 1115, 1393, 'High', { anchor: 'middle' });
  hLine(892, 1029, 1399, 2.4, '#000');
  hLine(1037, 1174, 1399, 2.4, '#000');

  const ly = d3.scaleLinear().domain([4, -4]).range([1673, 1759]);
  const grad = defs.append('linearGradient').attr('id', 'heatGrad').attr('x1', 0).attr('x2', 0).attr('y1', 0).attr('y2', 1);
  d3.range(4, -4.5, -.5).forEach((v, i, arr) => grad.append('stop').attr('offset', i / (arr.length - 1)).attr('stop-color', color(v)));
  g.append('rect').attr('x', 1263).attr('y', 1670).attr('width', 17).attr('height', 91).attr('fill', 'url(#heatGrad)');
  heatLegend.forEach(v => {
    label(g, 1283, ly(v) + 6, v, { size: 15 });
    g.append('line').attr('x1', 1263).attr('x2', 1267).attr('y1', ly(v)).attr('y2', ly(v)).attr('stroke', '#fff');
    g.append('line').attr('x1', 1276).attr('x2', 1280).attr('y1', ly(v)).attr('y2', ly(v)).attr('stroke', '#fff');
  });
  label(g, 1264, 1663, 'matrix_23', { size: 14.5, weight: 'bold' });
}

drawA();
drawB();
drawC();
drawD();
drawE();
drawF();
drawG();
drawH();
drawNetwork();
drawI();
drawJ();
</script>
</body>
</html>
